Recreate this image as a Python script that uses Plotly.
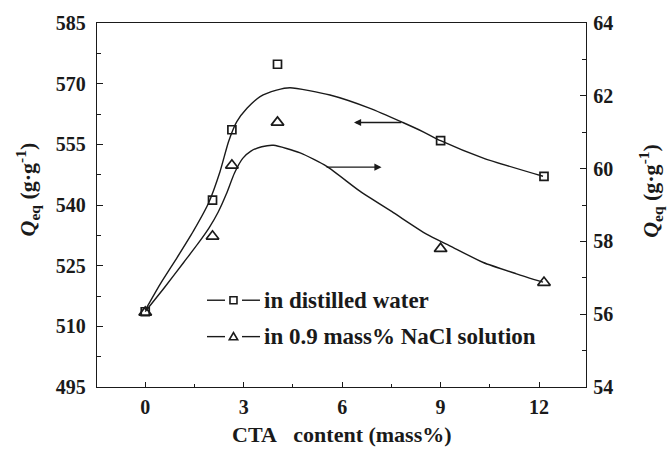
import plotly.graph_objects as go

# CTA content (mass%) of the measured samples
cta = [0, 2.05, 2.64, 4.03, 9.0, 12.15]
# equilibrium swelling in distilled water (left axis, g/g)
q_water = [513.6, 541.2, 558.6, 574.8, 555.9, 547.1]
# equilibrium swelling in 0.9 mass% NaCl (right axis, g/g)
q_nacl = [56.05, 58.14, 60.09, 61.27, 57.80, 56.87]

# smoothed trend lines
fit_water_x = [0, 0.46, 0.97, 1.47, 1.93, 2.28, 2.54, 2.79, 3.10, 3.50, 4.0, 4.41,
               5.63, 6.85, 7.85, 8.47, 9.0, 10.30, 12.12]
fit_water_y = [514.0, 520.5, 527.0, 533.6, 540.5, 548.3, 555.7, 560.6, 563.9, 566.8, 568.4, 569.0,
               567.2, 563.9, 560.4, 558.1, 555.9, 551.6, 547.1]
fit_nacl_x = [0, 0.61, 1.17, 1.60, 1.95, 2.22, 2.47, 2.72, 2.97, 3.22, 3.55, 3.91, 4.72, 5.53,
              6.54, 7.56, 8.57, 9.28, 10.30, 11.31, 12.12]
fit_nacl_y = [56.07, 56.76, 57.42, 57.93, 58.38, 58.80, 59.30, 59.88, 60.28, 60.48, 60.60, 60.64, 60.43, 60.06,
              59.38, 58.79, 58.20, 57.88, 57.42, 57.11, 56.88]

x_ticks = [0, 3, 6, 9, 12]
left_ticks = [495, 510, 525, 540, 555, 570, 585]
right_ticks = [54, 56, 58, 60, 62, 64]

legend_labels = ["in distilled water", "in 0.9 mass% NaCl solution"]

FONT = "Liberation Serif, Times New Roman, Tinos, DejaVu Serif, serif"
INK = "#1a1a1a"

fig = go.Figure()

fig.add_trace(go.Scatter(x=fit_water_x, y=fit_water_y, mode="lines",
                         line=dict(color=INK, width=1.4, shape="spline", smoothing=0.6),
                         showlegend=False, hoverinfo="skip"))
fig.add_trace(go.Scatter(x=fit_nacl_x, y=fit_nacl_y, mode="lines", yaxis="y2",
                         line=dict(color=INK, width=1.4, shape="spline", smoothing=0.6),
                         showlegend=False, hoverinfo="skip"))
fig.add_trace(go.Scatter(x=cta, y=q_water, mode="markers",
                         marker=dict(symbol="square-open", size=8, color=INK, line=dict(width=1.7)),
                         showlegend=False, name=legend_labels[0]))
fig.add_trace(go.Scatter(x=cta, y=q_nacl, mode="markers", yaxis="y2",
                         marker=dict(symbol="triangle-up-open", size=11, color=INK, line=dict(width=1.7)),
                         showlegend=False, name=legend_labels[1]))

tickfont = dict(family=FONT, size=20, color=INK, weight="bold")

fig.update_layout(
    width=668, height=449,
    margin=dict(l=97, r=82, t=20.5, b=61.5),
    plot_bgcolor="white", paper_bgcolor="white",
    font=dict(family=FONT, color=INK),
    showlegend=False,
    xaxis=dict(range=[-1.47, 13.43], tickvals=x_ticks, ticks="inside", ticklen=5,
               tickwidth=1.2, tickcolor=INK,
               minor=dict(dtick=1.5, tick0=0, ticks="inside", ticklen=3, tickcolor=INK, tickwidth=1.2),
               showline=True, linecolor=INK, linewidth=1.3, mirror=True,
               showgrid=False, zeroline=False, tickfont=tickfont, ticklabelstandoff=2),
    yaxis=dict(range=[495, 585], tickvals=left_ticks, ticks="inside", ticklen=6,
               tickwidth=1.2, tickcolor=INK,
               minor=dict(dtick=7.5, tick0=495, ticks="inside", ticklen=4, tickcolor=INK, tickwidth=1.2),
               showline=True, linecolor=INK, linewidth=1.3,
               showgrid=False, zeroline=False, tickfont=tickfont, ticklabelstandoff=6),
    yaxis2=dict(range=[54, 64], tickvals=right_ticks, ticks="inside", ticklen=6,
                tickwidth=1.2, tickcolor=INK, overlaying="y", side="right",
                minor=dict(dtick=1, tick0=54, ticks="inside", ticklen=4, tickcolor=INK, tickwidth=1.2),
                showline=True, linecolor=INK, linewidth=1.3,
                showgrid=False, zeroline=False, tickfont=tickfont, ticklabelstandoff=2),
)

# legend: dash - marker - dash, then label
rows_y = [0.2384, 0.1384]
dash_l = (0.2249, 0.2618)
dash_r = (0.2965, 0.3333)
mark_x = 0.2791
text_x = 0.3374
for yy in rows_y:
    for a, b in (dash_l, dash_r):
        fig.add_shape(type="line", xref="paper", yref="paper", x0=a, x1=b, y0=yy, y1=yy,
                      line=dict(color=INK, width=1.4))
fig.add_shape(type="rect", xref="paper", yref="paper", xsizemode="pixel", ysizemode="pixel",
              xanchor=mark_x, yanchor=rows_y[0], x0=-3.5, x1=3.5, y0=-3.5, y1=3.5,
              line=dict(color=INK, width=1.6))
fig.add_shape(type="path", xref="paper", yref="paper", xsizemode="pixel", ysizemode="pixel",
              xanchor=mark_x, yanchor=rows_y[1], path="M-4.2,-3.2 L4.2,-3.2 L0,4.0 Z",
              line=dict(color=INK, width=1.6))
for yy, label in zip(rows_y, legend_labels):
    fig.add_annotation(text=label, xref="paper", yref="paper", x=text_x, y=yy,
                       xanchor="left", yanchor="middle", showarrow=False,
                       font=dict(family=FONT, size=23, color=INK, weight="bold"))

ann_font = dict(family=FONT, size=22, color=INK, weight="bold")
fig.add_annotation(text="CTA\u00a0\u00a0 content (mass%)", xref="paper", yref="paper",
                   x=0.5, y=-0.1676, showarrow=False, font=ann_font, borderpad=0,
                   xanchor="center", yanchor="bottom")
title_font = dict(family=FONT, size=22, color=INK, weight="bold")
fig.add_annotation(text="<i>Q</i><sub>eq</sub> (g·g<sup>-1</sup>)", xref="paper", yref="paper",
                   x=-0.143, y=0.543, textangle=-90, showarrow=False, font=title_font,
                   xanchor="center", yanchor="middle")
fig.add_annotation(text="<i>Q</i><sub>eq</sub> (g·g<sup>-1</sup>)", xref="paper", yref="paper",
                   x=1.133, y=0.539, textangle=-90, showarrow=False, font=title_font,
                   xanchor="center", yanchor="middle")

# arrows pointing each curve to its axis
fig.add_annotation(x=6.36, y=560.4, ax=7.85, ay=560.4, xref="x", yref="y", axref="x", ayref="y",
                   showarrow=True, arrowhead=2, arrowsize=1.1, arrowwidth=1.3, arrowcolor=INK, text="")
fig.add_annotation(x=7.2, y=60.04, ax=5.48, ay=60.04, xref="x", yref="y2", axref="x", ayref="y2",
                   showarrow=True, arrowhead=2, arrowsize=1.1, arrowwidth=1.3, arrowcolor=INK, text="")

fig.write_html("out.html")
